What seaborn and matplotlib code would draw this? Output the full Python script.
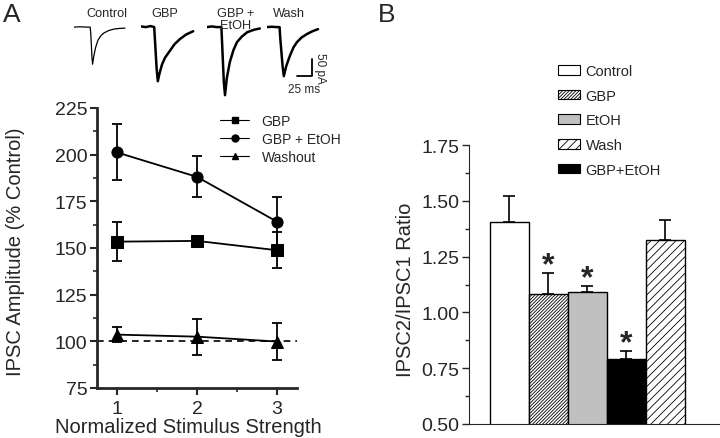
import matplotlib
matplotlib.use("Agg")
import matplotlib.pyplot as plt
from matplotlib.lines import Line2D
from matplotlib.patches import Patch
import seaborn as sns
import pandas as pd
import numpy as np

# ---- data: panel A traces (time in ms, current in pA) ----
ctrl_t = [0, 10, 20, 27, 28, 30, 31, 33, 36, 40, 45, 50, 58, 66, 75, 85]
ctrl_i = [0, 1, 0, 0, -20, -90, -109, -85, -60, -38, -25, -17, -10, -6, -4, -3]
gbp_t = [0, 8, 16, 22, 23, 26, 28, 31, 35, 40, 48, 56, 65, 75, 87]
gbp_i = [2, 0, 3, 0, -30, -120, -159, -135, -110, -90, -70, -50, -35, -22, -12]
eth_t = [0, 8, 16, 24, 25, 28, 30, 33, 38, 44, 50, 58, 67, 78, 88]
eth_i = [0, 2, 0, 0, -40, -160, -200, -150, -103, -68, -44, -28, -15, -8, -4]
wash_t = [0, 8, 16, 21, 22, 26, 28, 32, 38, 44, 50, 58, 67, 76, 85]
wash_i = [0, 1, 0, 0, -30, -115, -144, -115, -85, -60, -44, -30, -20, -12, -6]
trace_labels = ["Control", "GBP", "GBP +\nEtOH", "Wash"]

# ---- data: panel A amplitudes (% control) ----
stim = [1, 2, 3]
gbp_mean = [153.4, 153.8, 148.8]
gbp_sem = [10.5, 1.0, 9.7]
eth_mean = [201.2, 188.1, 164.1]
eth_sem = [15.0, 11.0, 13.0]
wash_mean = [103.6, 102.5, 99.9]
wash_sem = [4.2, 9.6, 10.0]
line_labels = ["GBP", "GBP + EtOH", "Washout"]

# ---- data: panel B ratios ----
bar_labels = ["Control", "GBP", "EtOH", "GBP+EtOH", "Wash"]
bar_values = [1.406, 1.084, 1.090, 0.791, 1.326]
bar_errs = [0.117, 0.093, 0.027, 0.036, 0.089]
significant = [False, True, True, True, False]
legend_order = ["Control", "GBP", "EtOH", "Wash", "GBP+EtOH"]

sns.set_style("ticks")
plt.rcParams["font.family"] = ["Liberation Sans", "DejaVu Sans"]
plt.rcParams["hatch.linewidth"] = 0.6

W, H = 720, 439
fig = plt.figure(figsize=(W / 100, H / 100), dpi=100)


def px_axes(x0, y0, x1, y1):
    # pixel box (top-left origin) -> figure axes
    return fig.add_axes([x0 / W, 1 - y1 / H, (x1 - x0) / W, (y1 - y0) / H])


# ---- traces ----
traces = [(ctrl_t, ctrl_i, 0.9), (gbp_t, gbp_i, 1.8), (eth_t, eth_i, 1.8), (wash_t, wash_i, 1.8)]
trace_left = [74, 141, 207, 267]
label_x = [107, 165, 236, 289]
for (t, i, lw), left, lab, lx in zip(traces, trace_left, trace_labels, label_x):
    tax = px_axes(left, 23, left + 72, 103)
    tax.plot(t, i, color="black", lw=lw)
    tax.set_xlim(0, 120)
    tax.set_ylim(-220, 15)
    tax.axis("off")
    fig.text(lx / W, 1 - 8 / H, lab, ha="center", va="top", fontsize=9.2, linespacing=1.0)
    last_ax = tax

# scale bar on the wash trace axes
last_ax.plot([50, 75, 75], [-144, -144, -94], color="black", lw=1.3, clip_on=False)
last_ax.text(62, -165, "25 ms", ha="center", va="top", fontsize=8.5)
last_ax.text(88, -119, "50 pA", ha="center", va="center", rotation=270, fontsize=8.5)

fig.text(12 / W, 1 - 15 / H, "A", ha="center", va="center", fontsize=19)
fig.text(387 / W, 1 - 15 / H, "B", ha="center", va="center", fontsize=19)

# ---- panel A line plot ----
axA = px_axes(97, 109, 297, 389)
df = pd.DataFrame({
    "stim": stim * 3,
    "amp": gbp_mean + eth_mean + wash_mean,
    "cond": [line_labels[0]] * 3 + [line_labels[1]] * 3 + [line_labels[2]] * 3,
})
markers = {"GBP": "s", "GBP + EtOH": "o", "Washout": "^"}
sns.lineplot(data=df, x="stim", y="amp", hue="cond", style="cond", markers=markers,
             dashes=False, palette=["black"] * 3, markersize=8, linewidth=1.3,
             markeredgecolor="black", legend=False, errorbar=None, ax=axA, zorder=3)
for m, s in [(gbp_mean, gbp_sem), (eth_mean, eth_sem), (wash_mean, wash_sem)]:
    axA.errorbar(stim, m, yerr=s, fmt="none", ecolor="black", elinewidth=1.3, capsize=3.5,
                 capthick=1.3, zorder=2)
axA.axhline(100, color="black", lw=1.2, ls=(0, (4, 3)), zorder=1)
axA.set_xlim(0.75, 3.25)
axA.set_ylim(75, 225)
axA.set_xticks([1, 2, 3])
axA.set_xticks([1.5, 2.5], minor=True)
axA.set_yticks(np.arange(75, 226, 25))
axA.set_yticks(np.arange(87.5, 225, 25), minor=True)
axA.tick_params(axis="both", which="major", labelsize=14, length=5, width=1.5, pad=2)
axA.tick_params(axis="x", which="major", pad=4)
axA.tick_params(axis="both", which="minor", length=3, width=1.2)
axA.set_xlabel("Normalized Stimulus Strength", fontsize=14.5)
axA.xaxis.set_label_coords(0.455, -0.102)
axA.set_ylabel("IPSC Amplitude (% Control)", fontsize=14.5)
axA.yaxis.set_label_coords(-0.36, 0.49)
for side in ["top", "right"]:
    axA.spines[side].set_visible(False)
for side in ["left", "bottom"]:
    axA.spines[side].set_linewidth(2)

handlesA = [Line2D([], [], color="black", lw=0.8, marker=markers[k], markersize=5) for k in line_labels]
fig.legend(handlesA, line_labels, loc="upper left", bbox_to_anchor=(220 / W, 1 - 115 / H),
           frameon=False, fontsize=10, handlelength=2.1, handletextpad=0.9,
           labelspacing=0.3, borderpad=0, borderaxespad=0)

# ---- panel B bar chart ----
axB = px_axes(469, 146, 720, 425)
bar_colors = ["white", "white", "#c0c0c0", "black", "white"]
bar_hatches = ["", "//////////", "", "", "////"]
sns.barplot(x=bar_labels, y=bar_values, hue=bar_labels, palette=bar_colors, width=1.0,
            edgecolor="black", linewidth=1, legend=False, ax=axB, zorder=2)
for patch, h in zip(axB.patches, bar_hatches):
    patch.set_hatch(h)
xs = np.arange(len(bar_labels))
axB.errorbar(xs, bar_values, yerr=[np.zeros(len(xs)), bar_errs], fmt="none", ecolor="black",
             elinewidth=1.2, capsize=4, capthick=1.2, zorder=1)
for x, v, e, s in zip(xs, bar_values, bar_errs, significant):
    if s:
        axB.text(x, v + e, "*", ha="center", va="baseline", fontsize=23, fontweight="bold")
axB.set_xlim(-1.03, 5.41)
axB.set_ylim(0.5, 1.75)
axB.set_xticks([])
axB.set_yticks(np.arange(0.5, 1.76, 0.25))
axB.set_yticks(np.arange(0.625, 1.75, 0.25), minor=True)
axB.yaxis.set_major_formatter(matplotlib.ticker.FormatStrFormatter("%.2f"))
axB.tick_params(axis="y", which="major", labelsize=14, length=5, width=1, pad=2)
axB.tick_params(axis="y", which="minor", length=3, width=1)
axB.set_ylabel("IPSC2/IPSC1 Ratio", fontsize=14.5)
axB.yaxis.set_label_coords(-0.215, 0.484)
for side in ["top", "right"]:
    axB.spines[side].set_visible(False)

handlesB = [Patch(facecolor=bar_colors[bar_labels.index(k)], edgecolor="black", lw=0.8,
                  hatch=bar_hatches[bar_labels.index(k)]) for k in legend_order]
fig.legend(handlesB, legend_order, loc="upper left", bbox_to_anchor=(558 / W, 1 - 65 / H),
           frameon=False, fontsize=10.5, handlelength=1.5, handleheight=0.62,
           handletextpad=0.4, labelspacing=0.73, borderpad=0, borderaxespad=0)

fig.savefig("out.png", dpi=100)
